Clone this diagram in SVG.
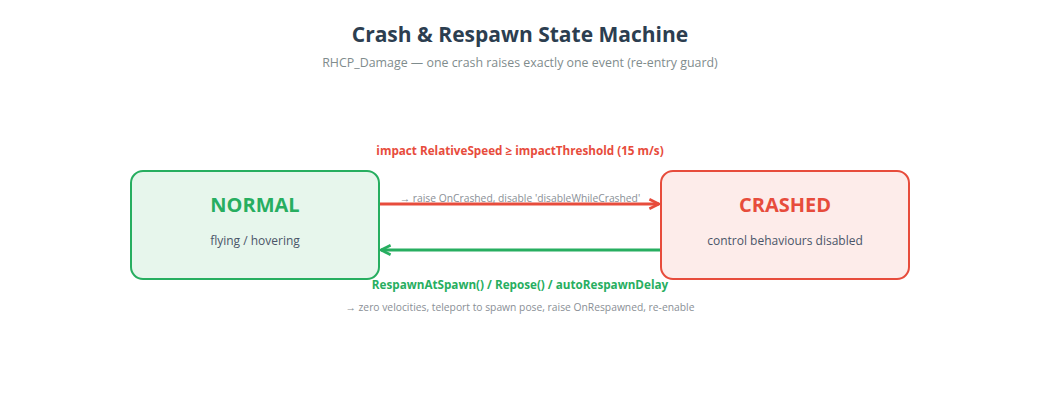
<svg xmlns="http://www.w3.org/2000/svg" width="1040" height="420" viewBox="0 0 1040 420">
<defs>
<style>
text{font-family:"Open Sans","Noto Sans","Liberation Sans",sans-serif;text-anchor:middle}
.title{font-size:21px;font-weight:700;fill:#2c3e50}
.sub{font-size:12.4px;fill:#7f8c8d}
.state{font-size:20px;font-weight:700}
.desc{font-size:12px;fill:#4a5568}
.lbl{font-size:11.7px;font-weight:700}
.note{font-size:10.3px;fill:#8a8f96}
</style>
<marker id="ar" viewBox="0 0 10 10" refX="9" refY="5" markerWidth="4" markerHeight="4" orient="auto-start-reverse" markerUnits="strokeWidth"><path d="M1,1 L9,5 L1,9" fill="none" stroke="#e74c3c" stroke-width="2.2" stroke-linejoin="miter"/></marker>
<marker id="ag" viewBox="0 0 10 10" refX="9" refY="5" markerWidth="4" markerHeight="4" orient="auto-start-reverse" markerUnits="strokeWidth"><path d="M1,1 L9,5 L1,9" fill="none" stroke="#27ae60" stroke-width="2.2"/></marker>
</defs>
<rect width="1040" height="420" fill="#ffffff"/>
<text class="title" x="520" y="42">Crash &amp; Respawn State Machine</text>
<text class="sub" x="520" y="67">RHCP_Damage — one crash raises exactly one event (re-entry guard)</text>
<g id="normal">
<rect x="131" y="171" width="248" height="108" rx="12" fill="#e7f6ec" stroke="#27ae60" stroke-width="2"/>
<text class="state" x="255" y="212" fill="#27ae60">NORMAL</text>
<text class="desc" x="255" y="245">flying / hovering</text>
</g>
<g id="crashed">
<rect x="661" y="171" width="248" height="108" rx="12" fill="#fdecea" stroke="#e74c3c" stroke-width="2"/>
<text class="state" x="785" y="212" fill="#e74c3c">CRASHED</text>
<text class="desc" x="785" y="245">control behaviours disabled</text>
</g>
<g id="connectors">
<line x1="380" y1="204" x2="659" y2="204" stroke="#e74c3c" stroke-width="3" marker-end="url(#ar)"/>
<line x1="660" y1="250" x2="381" y2="250" stroke="#27ae60" stroke-width="3" marker-end="url(#ag)"/>
<text class="lbl" x="520" y="155" fill="#e74c3c">impact RelativeSpeed ≥ impactThreshold (15 m/s)</text>
<text class="note" x="520" y="202">→ raise OnCrashed, disable 'disableWhileCrashed'</text>
<text class="lbl" x="520" y="289" fill="#27ae60">RespawnAtSpawn() / Repose() / autoRespawnDelay</text>
<text class="note" x="520" y="311">→ zero velocities, teleport to spawn pose, raise OnRespawned, re-enable</text>
</g>
</svg>
